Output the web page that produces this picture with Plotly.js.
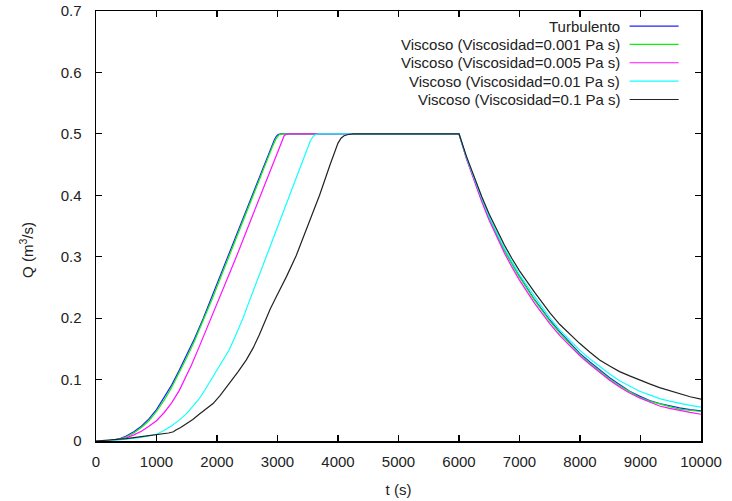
<!DOCTYPE html>
<html>
<head>
<meta charset="utf-8">
<script src="https://cdn.plot.ly/plotly-3.0.1.min.js"></script>
<style>html,body{margin:0;padding:0;background:#fff;}#chart{width:732px;height:501px;}</style>
</head>
<body>
<div id="chart"></div>
<script>
// ---- data ----
const seriesNames = [
  "Turbulento",
  "Viscoso (Viscosidad=0.001 Pa s)",
  "Viscoso (Viscosidad=0.005 Pa s)",
  "Viscoso (Viscosidad=0.01 Pa s)",
  "Viscoso (Viscosidad=0.1 Pa s)"
];
const seriesColors = ["#2020ff", "#10ee10", "#ff10ff", "#10ffff", "#222222"];

const tTurb = [0,170,300,400,500,625,750,875,1000,1125,1250,1375,1500,1625,1770,1900,2000,2250,2500,2750,2900,2950,2980,3010,3050,4000,5000,6000,6125,6250,6375,6500,6625,6750,6875,7000,7250,7500,7663,7830,7993,8160,8324,8490,8654,8820,8985,9150,9315,9480,9645,9820,10000];
const qTurb = [0,0,0.002,0.004,0.008,0.015,0.024,0.036,0.051,0.070,0.091,0.115,0.140,0.166,0.199,0.231,0.256,0.319,0.381,0.443,0.480,0.491,0.496,0.499,0.5,0.5,0.5,0.5,0.460,0.426,0.393,0.363,0.336,0.311,0.289,0.268,0.230,0.197,0.178,0.160,0.143,0.129,0.116,0.103,0.092,0.081,0.073,0.066,0.061,0.057,0.054,0.051,0.049];

const tV001 = [0,190,320,420,500,625,750,875,1000,1125,1250,1375,1500,1625,1790,1920,2000,2250,2500,2750,2920,2970,3000,3030,3080,4000,5000,6000,6125,6250,6375,6500,6625,6750,6875,7000,7250,7500,7663,7830,7993,8160,8324,8490,8654,8820,8985,9150,9315,9480,9645,9820,10000];
const qV001 = [0,0,0.002,0.004,0.007,0.013,0.022,0.033,0.048,0.066,0.087,0.111,0.136,0.162,0.199,0.231,0.251,0.314,0.376,0.438,0.480,0.491,0.496,0.499,0.5,0.5,0.5,0.5,0.460,0.425,0.392,0.362,0.335,0.310,0.288,0.267,0.229,0.195,0.176,0.158,0.141,0.127,0.114,0.101,0.090,0.080,0.071,0.065,0.060,0.056,0.052,0.050,0.048];

const tV005 = [0,200,350,500,625,750,875,1000,1125,1250,1375,1467,1580,1700,1800,1907,2000,2100,2320,2520,2721,2920,3000,3050,3080,3110,3140,3180,4000,5000,6000,6125,6250,6375,6500,6625,6750,6875,7000,7250,7500,7663,7830,7993,8160,8324,8490,8654,8820,8985,9150,9315,9480,9645,9820,10000];
const qV005 = [0,0,0.002,0.005,0.010,0.016,0.024,0.033,0.046,0.062,0.082,0.1,0.124,0.152,0.176,0.2,0.222,0.246,0.3,0.35,0.4,0.45,0.47,0.483,0.491,0.497,0.499,0.5,0.5,0.5,0.5,0.459,0.424,0.390,0.359,0.331,0.306,0.283,0.262,0.224,0.191,0.172,0.155,0.139,0.125,0.112,0.099,0.088,0.078,0.070,0.063,0.057,0.053,0.0495,0.0465,0.0435];

const tV01 = [0,200,500,750,1000,1125,1250,1375,1500,1600,1700,1800,1907,2000,2100,2200,2300,2430,2520,2620,2715,2815,3010,3200,3400,3480,3540,3590,3630,3680,4000,5000,6000,6125,6250,6375,6500,6625,6750,6875,7000,7250,7500,7663,7830,7993,8160,8324,8490,8654,8820,8985,9150,9315,9480,9645,9820,10000];
const qV01 = [0,0,0.003,0.006,0.011,0.017,0.025,0.034,0.045,0.056,0.068,0.083,0.1,0.114,0.13,0.148,0.17,0.2,0.224,0.25,0.275,0.3,0.35,0.4,0.452,0.474,0.488,0.496,0.499,0.5,0.5,0.5,0.5,0.461,0.427,0.395,0.365,0.339,0.314,0.292,0.271,0.235,0.201,0.181,0.164,0.148,0.134,0.121,0.109,0.098,0.089,0.081,0.075,0.069,0.065,0.061,0.058,0.055];

const tV1 = [0,150,500,750,1000,1200,1280,1320,1400,1500,1600,1700,1800,1935,2050,2200,2350,2485,2600,2700,2790,2880,2980,3150,3310,3500,3695,3870,3950,4000,4050,4100,4170,4250,5000,6000,6125,6250,6375,6500,6625,6750,6875,7000,7250,7500,7663,7830,7993,8160,8324,8490,8654,8820,8985,9150,9315,9480,9645,9820,10000];
const qV1 = [0,0.001,0.004,0.007,0.010,0.013,0.015,0.018,0.022,0.028,0.035,0.043,0.051,0.061,0.074,0.093,0.113,0.132,0.152,0.173,0.195,0.215,0.235,0.268,0.302,0.35,0.4,0.45,0.472,0.485,0.493,0.497,0.499,0.5,0.5,0.5,0.463,0.430,0.398,0.369,0.343,0.319,0.297,0.277,0.242,0.209,0.190,0.174,0.159,0.145,0.132,0.122,0.113,0.106,0.099,0.093,0.087,0.082,0.077,0.072,0.068];

const tValues = [tTurb, tV001, tV005, tV01, tV1];
const qValues = [qTurb, qV001, qV005, qV01, qV1];

const xTickVals = [0,1000,2000,3000,4000,5000,6000,7000,8000,9000,10000];
const yTickVals = [0,0.1,0.2,0.3,0.4,0.5,0.6,0.7];
const xTitle = "t (s)";
const yTitle = "Q (m<sup>3</sup>/s)";

// ---- traces ----
const traces = seriesNames.map((name, i) => ({
  x: tValues[i], y: qValues[i], name: name, type: "scatter", mode: "lines",
  line: {color: seriesColors[i], width: 1.2}, showlegend: false
}));

const fam = "Liberation Sans, Arial, sans-serif";
const font = {family: fam, size: 15, color: "#222"};

// ---- gnuplot-style key (text right-aligned, sample on the right) ----
const keyTop = 0.965, keyStep = 0.0427;
const annotations = [], shapes = [];
seriesNames.forEach((name, i) => {
  const yy = keyTop - i * keyStep;
  annotations.push({xref: "paper", yref: "paper", x: 0.870, y: yy, xanchor: "right", yanchor: "middle",
    text: name, showarrow: false, font: font});
  shapes.push({type: "line", xref: "paper", yref: "paper", x0: 0.882, x1: 0.963, y0: yy, y1: yy,
    line: {color: seriesColors[i], width: 1.2}});
});
// y axis title placed like gnuplot's
annotations.push({xref: "paper", yref: "paper", x: -0.116, y: 0.444, xanchor: "center", yanchor: "middle",
  textangle: -90, text: yTitle, showarrow: false, font: font});

const layout = {
  width: 732, height: 501,
  margin: {l: 96, r: 30.5, t: 11, b: 60, pad: 0},
  paper_bgcolor: "#fff", plot_bgcolor: "#fff",
  font: font,
  showlegend: false,
  xaxis: {
    range: [0, 10000], tickvals: xTickVals, tickformat: "d",
    ticks: "inside", ticklen: 6, tickwidth: 1.2, tickcolor: "#000",
    showline: true, linecolor: "#000", linewidth: 1.5, mirror: "allticks",
    showgrid: false, zeroline: false, ticklabelstandoff: 6,
    title: {text: xTitle, font: font, standoff: 16}
  },
  yaxis: {
    range: [0, 0.7], tickvals: yTickVals,
    ticks: "inside", ticklen: 6, tickwidth: 1.2, tickcolor: "#000",
    showline: true, linecolor: "#000", linewidth: 1.5, mirror: "allticks",
    showgrid: false, zeroline: false, ticklabelstandoff: 10
  },
  annotations: annotations,
  shapes: shapes
};

Plotly.newPlot("chart", traces, layout, {displayModeBar: false, staticPlot: true});
</script>
</body>
</html>
